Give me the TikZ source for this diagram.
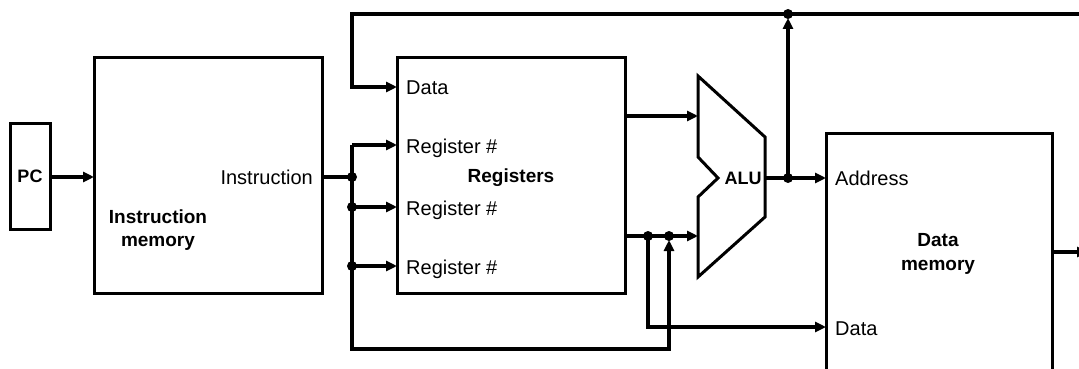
\documentclass[tikz,border=0pt]{standalone}
\usepackage{fontspec}
\setmainfont{Liberation Sans}
\usetikzlibrary{arrows.meta}
\begin{document}
\begin{tikzpicture}[x=1pt,y=-1pt,
  box/.style={draw,line width=3pt,inner sep=0pt,outer sep=0pt,anchor=north west},
  wire/.style={line width=4pt,line join=miter},
  arr/.style={wire,-{Triangle[length=11pt,width=10pt]}},
  dot/.style={circle,fill,inner sep=0pt,minimum size=10pt},
  lbl/.style={font=\fontsize{20}{24}\selectfont,inner sep=0pt},
  blbl/.style={font=\fontsize{19}{23.5}\selectfont\bfseries,inner sep=0pt,align=center},
]
\useasboundingbox (0,0) rectangle (1079,369);
\clip (0,0) rectangle (1079,369);

% blocks
\node[box,minimum width=40pt,minimum height=106pt,font=\fontsize{18}{23}\selectfont\bfseries] (pc) at (10,123) {PC};
\node[box,minimum width=228pt,minimum height=235pt] (imem) at (94,58) {};
\node[box,minimum width=228pt,minimum height=235pt] (regs) at (397,58) {};
\node[box,minimum width=226pt,minimum height=280pt] (dmem) at (826,133) {};
\draw[line width=3pt,line join=miter] (698,76) -- (765,137) -- (765,217) -- (698,277) -- (698,197) -- (718,178) -- (698,157) -- cycle;

% labels
\node[lbl,anchor=base east] (instr) at (313,184) {Instruction};
\node[blbl] (imemlbl) at (158,230) {Instruction\\memory};
\node[lbl,anchor=base west] (rdata) at (406,94) {Data};
\node[lbl,anchor=base west] (rr1) at (406,153) {Register \#};
\node[lbl,anchor=base west] (rr2) at (406,215) {Register \#};
\node[lbl,anchor=base west] (rr3) at (406,274) {Register \#};
\node[blbl] (regslbl) at (511,178) {Registers};
\node[blbl,font=\fontsize{18}{23}\selectfont\bfseries] (alu) at (743,178) {ALU};
\node[lbl,anchor=base west] (addr) at (835,185) {Address};
\node[lbl,anchor=base west] (ddata) at (835,335) {Data};
\node[blbl] (dmemlbl) at (938,254) {Data\\memory};

% coordinates
\coordinate (bustop) at (352,145);
\coordinate (busbot) at (352,349);
\coordinate (toptl) at (352,14);
\coordinate (topr) at (1082,14);
\coordinate (rdport) at (397,87);
\coordinate (alua) at (698,116);
\coordinate (alub) at (698,236);
\coordinate (aluout) at (765,178);
\coordinate (dmdata) at (826,327);
\coordinate (dmout) at (1088,252);

% junction dots
\node[dot] (j0) at (352,177) {};
\node[dot] (j1) at (352,207) {};
\node[dot] (j2) at (352,266) {};
\node[dot] (j3) at (648,236) {};
\node[dot] (j4) at (669,236) {};
\node[dot] (j5) at (788,178) {};
\node[dot] (jtop) at (788,14) {};

% wires
\draw[arr] (pc.east |- j0) -- (imem.west |- j0);
\draw[wire] (imem.east |- j0) -- (j0.center);
\draw[arr] (bustop) -- (regs.west |- bustop);
\draw[arr] (j1.center) -- (regs.west |- j1);
\draw[arr] (j2.center) -- (regs.west |- j2);
\draw[arr,shorten >=4pt] (bustop) -- (busbot) -| (j4.center);
\draw[arr] (topr) -- (toptl) |- (rdport);
\draw[arr] (regs.east |- alua) -- (alua);
\draw[arr] (regs.east |- alub) -- (alub);
\draw[arr] (j3.center) |- (dmdata);
\draw[arr] (aluout) -- (dmem.west |- aluout);
\draw[arr,shorten >=4pt] (j5.center) -- (jtop.center);
\draw[arr] (dmem.east |- dmout) -- (dmout);
\end{tikzpicture}
\end{document}
